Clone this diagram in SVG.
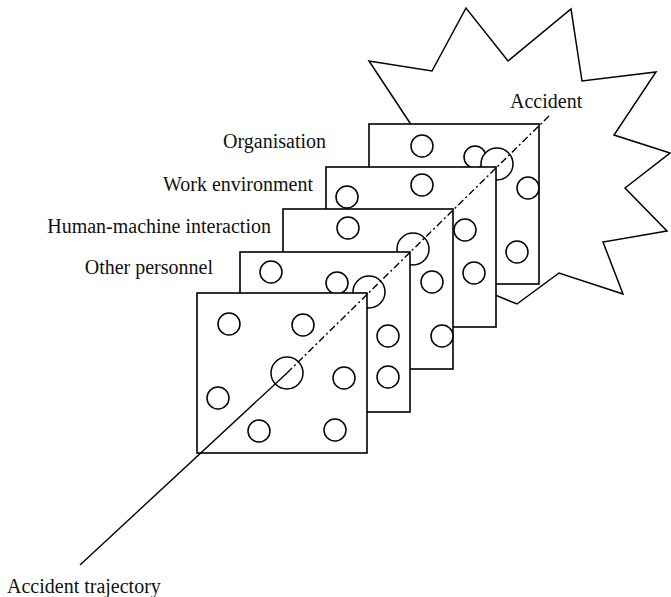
<svg xmlns="http://www.w3.org/2000/svg" width="671" height="597" viewBox="0 0 671 597">
  <style>
    .plate{fill:#fff;stroke:#000;stroke-width:1.6}
    .hole{fill:#fff;stroke:#000;stroke-width:1.5}
    .star{fill:#fff;stroke:#000;stroke-width:1.5;stroke-linejoin:miter}
    .label{font-family:"Liberation Serif","Times New Roman",serif;font-size:20px;fill:#111}
    .traj{fill:none;stroke:#000;stroke-width:1.4}
    .dash{stroke-dasharray:7 3 2 3}
  </style>

  <!-- accident burst, behind the layers -->
  <g id="accident-burst">
    <polygon class="star" points="410,123 369,61 432,71 466,8 508,61 571,9 582,81 656,72 614,135 670,153 625,188 667,231 603,242 623,294 559,273 517,304 495,295"/>
  </g>

  <!-- defence layers, back to front -->
  <g id="layer-organisation">
    <rect class="plate" x="369" y="124" width="170" height="160"/>
    <circle class="hole" cx="422" cy="146" r="11"/>
    <circle class="hole" cx="475" cy="157" r="11"/>
    <circle class="hole" cx="497" cy="164" r="16"/>
    <circle class="hole" cx="528" cy="188" r="11"/>
    <circle class="hole" cx="517" cy="252" r="11"/>
  </g>

  <g id="layer-work-environment">
    <rect class="plate" x="326" y="167" width="170" height="160"/>
    <circle class="hole" cx="347" cy="197" r="11"/>
    <circle class="hole" cx="422" cy="185" r="11"/>
    <circle class="hole" cx="465" cy="230" r="11"/>
    <circle class="hole" cx="474" cy="273" r="11"/>
  </g>

  <g id="layer-human-machine">
    <rect class="plate" x="283" y="209" width="170" height="160"/>
    <circle class="hole" cx="348" cy="228" r="11"/>
    <circle class="hole" cx="413" cy="249" r="16"/>
    <circle class="hole" cx="432" cy="282" r="11"/>
    <circle class="hole" cx="442" cy="336" r="11"/>
  </g>

  <g id="layer-other-personnel">
    <rect class="plate" x="240" y="252" width="170" height="160"/>
    <circle class="hole" cx="271" cy="272" r="11"/>
    <circle class="hole" cx="337" cy="283" r="11"/>
    <circle class="hole" cx="369" cy="292" r="16"/>
    <circle class="hole" cx="388" cy="336" r="11"/>
    <circle class="hole" cx="388" cy="377" r="11"/>
  </g>

  <g id="layer-front">
    <rect class="plate" x="197" y="293" width="170" height="160"/>
    <circle class="hole" cx="229" cy="324" r="11"/>
    <circle class="hole" cx="303" cy="325" r="11"/>
    <circle class="hole" cx="287" cy="373" r="16"/>
    <circle class="hole" cx="344" cy="378" r="11"/>
    <circle class="hole" cx="218" cy="398" r="11"/>
    <circle class="hole" cx="259" cy="431" r="11"/>
    <circle class="hole" cx="335" cy="430" r="11"/>
  </g>

  <!-- trajectory through the holes -->
  <g id="connectors">
    <line class="traj" x1="80" y1="565" x2="287" y2="373"/>
    <line class="traj dash" x1="287" y1="373" x2="551" y2="114"/>
  </g>

  <g id="labels">
    <text class="label" x="326" y="148" text-anchor="end">Organisation</text>
    <text class="label" x="313" y="191" text-anchor="end">Work environment</text>
    <text class="label" x="271" y="233" text-anchor="end">Human-machine interaction</text>
    <text class="label" x="213" y="274" text-anchor="end">Other personnel</text>
    <text class="label" x="510" y="108">Accident</text>
    <text class="label" x="7" y="593">Accident trajectory</text>
  </g>
</svg>
